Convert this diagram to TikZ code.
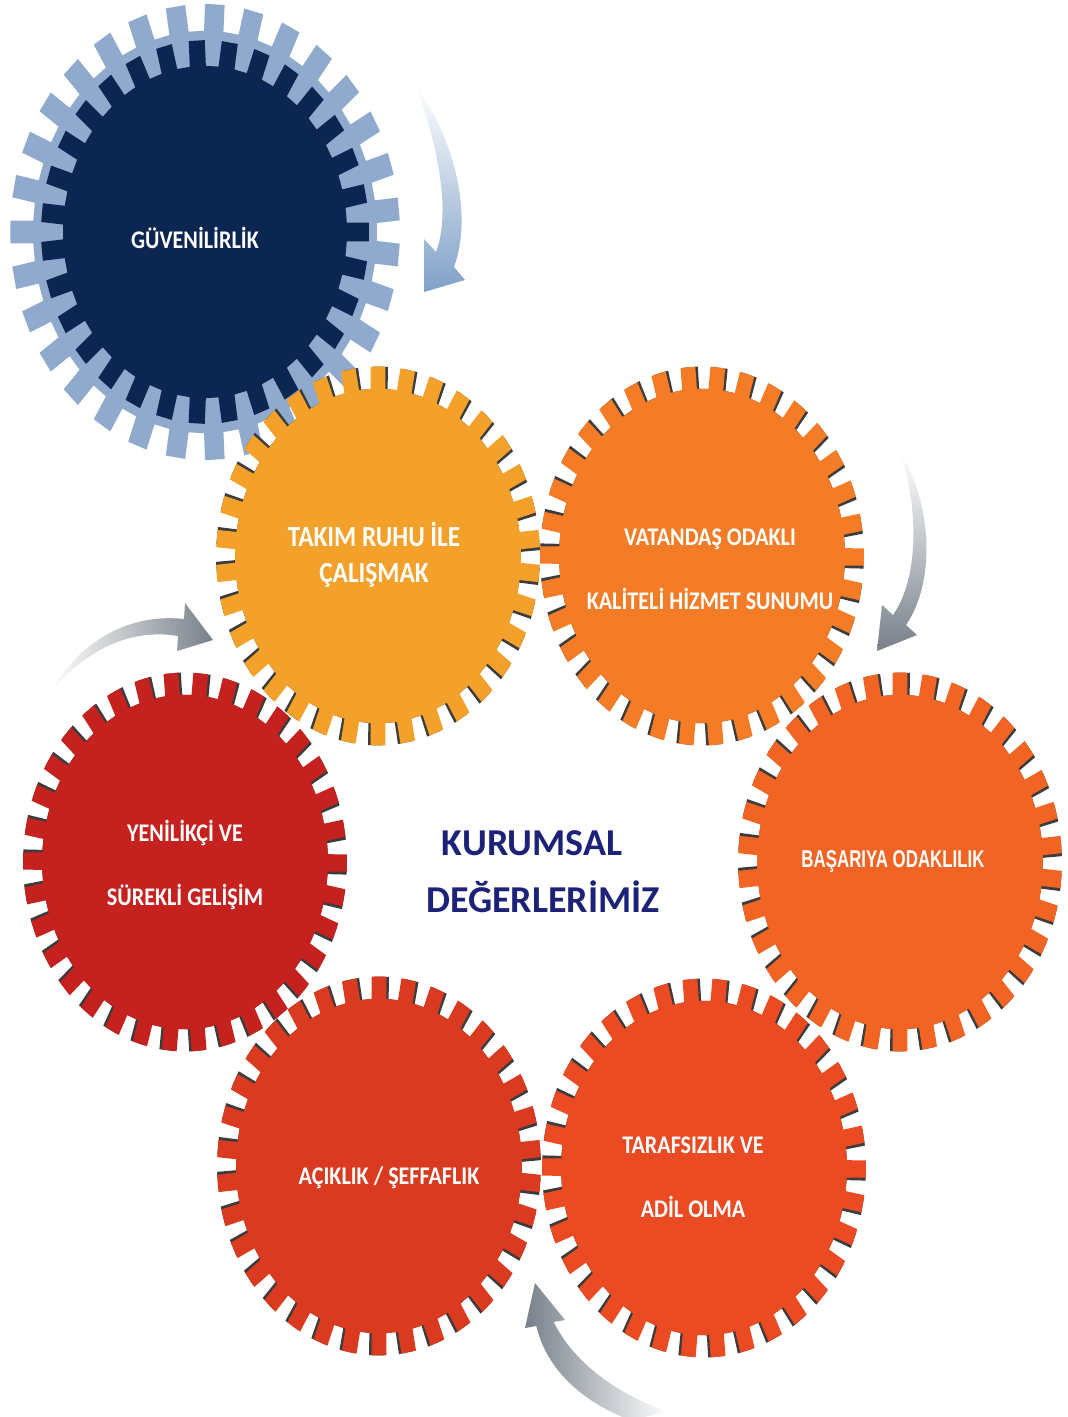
\documentclass[tikz,border=0pt]{standalone}
\usepackage{fontspec}
\setmainfont{Carlito}
\newfontfamily\narrowfont{Liberation Sans}

\definecolor{lightblue}{HTML}{8FAACD}
\definecolor{navy}{HTML}{0C2652}
\definecolor{takim}{HTML}{F3A12B}
\definecolor{vatan}{HTML}{F47C26}
\definecolor{basari}{HTML}{F26424}
\definecolor{taraf}{HTML}{EA4B23}
\definecolor{acik}{HTML}{D93A20}
\definecolor{yenil}{HTML}{C5221F}
\definecolor{gearshadow}{HTML}{3C3C3C}
\definecolor{titleblue}{HTML}{1C2277}
\definecolor{arrowblue}{HTML}{7FA0C8}
\definecolor{arrowgray}{HTML}{78808A}

% teeth, root radius, tip radius, phase (teeth slightly wider than the gaps)
\newcommand{\gearpath}[4]{({#4}:#2) \foreach \k in {1,...,#1}{
    -- ({#4+(\k-0.78)*360/#1}:#2)
    -- ({#4+(\k-0.5-0.28*#2/#3)*360/#1}:#3)
    -- ({#4+(\k-0.5+0.28*#2/#3)*360/#1}:#3)
    -- ({#4+(\k-0.22)*360/#1}:#2)
  } -- cycle}

% x, y, colour, phase
\newcommand{\drawgear}[4]{%
  \fill[gearshadow, shift={(#1,#2)}, yscale=1.17] \gearpath{34}{143}{162}{#4-0.9};
  \fill[#3, shift={(#1,#2)}, yscale=1.17] \gearpath{34}{143}{162}{#4};
}

\tikzset{
  geartext/.style={text=white, font=\bfseries\fontsize{15.7}{39.6}\selectfont,
    align=center, inner sep=0pt, yscale=1.15, transform shape},
  titletext/.style={text=titleblue, font=\bfseries\fontsize{27}{32}\selectfont,
    inner sep=0pt, anchor=base},
}

\begin{document}
\begin{tikzpicture}[x=0.025cm, y=0.025cm]
  \useasboundingbox (0,0) rectangle (1067,-1417);

  % blue gear
  \fill[lightblue, shift={(205,-232)}, yscale=1.17] \gearpath{31}{172}{195}{0};
  \fill[navy, shift={(205,-232)}, yscale=1.17] \gearpath{31}{142}{164}{5.8};

  % orange gears
  \drawgear{378}{-556}{takim}{0}
  \drawgear{702}{-556}{vatan}{5}
  \drawgear{900}{-862}{basari}{0}
  \drawgear{704}{-1168}{taraf}{5}
  \drawgear{379}{-1166}{acik}{0}
  \drawgear{185}{-862}{yenil}{5}

  % labels
  \node[geartext] (guven) at (195,-238) {GÜVENİLİRLİK};
  \node[geartext, font=\bfseries\fontsize{18}{22.3}\selectfont] (takim) at (374,-555) {TAKIM RUHU İLE\\ÇALIŞMAK};
  \node[geartext] (vatan) at (710,-569) {VATANDAŞ ODAKLI\\KALİTELİ HİZMET SUNUMU};
  \node[geartext, font=\narrowfont\bfseries\fontsize{15}{18}\selectfont, xscale=0.8] (basari) at (893,-862) {BAŞARIYA ODAKLILIK};
  \node[geartext] (yenil) at (185,-865) {YENİLİKÇİ VE\\SÜREKLİ GELİŞİM};
  \node[geartext] (taraf) at (693,-1177) {TARAFSIZLIK VE\\ADİL OLMA};
  \node[geartext] (acik) at (389,-1178) {AÇIKLIK / ŞEFFAFLIK};

  \node[titletext] (kurum) at (532,-855) {KURUMSAL};
  \node[titletext] (deger) at (543,-912) {DEĞERLERİMİZ};

  % turning arrows
  \shade[top color=white, middle color=arrowblue!90, bottom color=arrowblue]
    (416,-86) .. controls (455,-140) and (473,-215) .. (454,-267)
    -- (465,-280) -- (424,-292) -- (424,-239) -- (436,-252)
    .. controls (452,-210) and (436,-140) .. (416,-86) -- cycle;
  \shade[top color=white, middle color=arrowgray!85, bottom color=arrowgray]
    (900,-453) .. controls (931,-500) and (937,-580) .. (906,-625)
    -- (917,-635) -- (877,-651) -- (882,-605) -- (893,-615)
    .. controls (921,-575) and (917,-500) .. (900,-453) -- cycle;
  \shade[left color=white, middle color=arrowgray!80, right color=arrowgray]
    (50,-693) .. controls (80,-640) and (130,-613) .. (184,-619)
    -- (185,-603) -- (213,-640) -- (177,-651) -- (178,-636)
    .. controls (130,-628) and (85,-650) .. (50,-693) -- cycle;
  \shade[left color=arrowgray, middle color=arrowgray!85, right color=white]
    (536.3,-1326) .. controls (548,-1375) and (590,-1405) .. (630,-1420)
    -- (668,-1412) .. controls (620,-1395) and (575,-1365) .. (553.7,-1322)
    -- (565,-1320) -- (535,-1283) -- (525,-1328) -- cycle;
\end{tikzpicture}
\end{document}
